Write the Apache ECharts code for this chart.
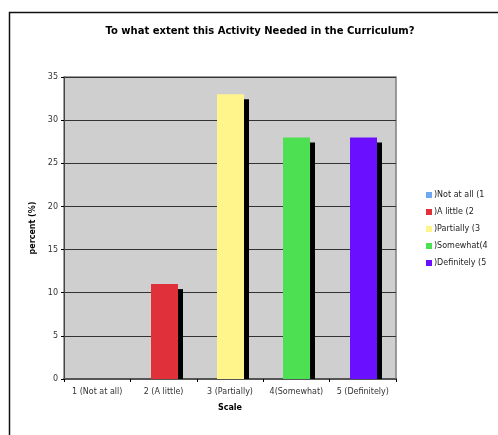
<!DOCTYPE html>
<html>
<head>
<meta charset="utf-8">
<script src="https://cdn.jsdelivr.net/npm/echarts@6/dist/echarts.min.js"></script>
<style>
  html, body { margin: 0; padding: 0; background: #fff; }
  #chart { width: 498px; height: 435px; }
</style>
</head>
<body>
<div id="chart"></div>
<script>
// Survey answers on the 1–5 scale
const categories = ['1 (Not at all)', '2 (A little)', '3 (Partially)', '4(Somewhat)', '5 (Definitely)'];
const legendNames = [')Not at all (1', ')A little (2', ')Partially (3', ')Somewhat(4', ')Definitely (5'];
const percents = [0, 11, 33, 28, 28];
const colors = ['#6FA8F0', '#E0303A', '#FFF58A', '#4DE052', '#6A0FFF'];
const yTicks = [0, 5, 10, 15, 20, 25, 30, 35];

const FONT = 'DejaVu Sans, Verdana, sans-serif';

// Each answer is its own series so it gets a legend entry; bars are drawn
// with a black drop shadow to the right, like a shallow 3D column.
function renderBar(params, api) {
  const idx = api.value(0);
  const val = api.value(1);
  const top = api.coord([idx, val]);
  const base = api.coord([idx, 0]);
  const cx = Math.round(top[0]);
  const frontW = 27, depth = 5, drop = 5;
  const h = base[1] - top[1];
  if (h <= 0) return null;
  return {
    type: 'group',
    children: [
      {
        type: 'rect',
        shape: { x: cx + 14, y: top[1] + drop, width: depth, height: h - drop },
        style: { fill: '#000', stroke: null }
      },
      {
        type: 'rect',
        shape: { x: cx - 13, y: top[1], width: frontW, height: h },
        style: { fill: api.visual('color'), stroke: null }
      }
    ]
  };
}

const series = categories.map((c, i) => ({
  name: legendNames[i],
  type: 'custom',
  renderItem: renderBar,
  itemStyle: { color: colors[i] },
  encode: { x: 0, y: 1 },
  data: [[i, percents[i]]]
}));

const chart = echarts.init(document.getElementById('chart'), null, { renderer: 'canvas' });
chart.setOption({
  animation: false,
  backgroundColor: '#fff',
  textStyle: { fontFamily: FONT },
  title: {
    text: 'To what extent this Activity Needed in the Curriculum?',
    left: 255, top: 21, textAlign: 'center',
    textStyle: { fontFamily: FONT, fontSize: 10, fontWeight: 'bold', color: '#000' }
  },
  graphic: [{
    type: 'rect', left: 7, top: 10, z: -1,
    shape: { width: 520, height: 460 },
    style: { fill: 'none', stroke: '#111', lineWidth: 1.5 }
  }],
  legend: {
    orient: 'vertical',
    left: 421, top: 186,
    itemWidth: 6, itemHeight: 6, itemGap: 9,
    icon: 'rect',
    data: legendNames,
    textStyle: { fontFamily: FONT, fontSize: 8, color: '#222', padding: [0, 0, 0, -3] }
  },
  grid: {
    left: 64, right: 102, top: 77, bottom: 56,
    show: true, backgroundColor: '#CFCFCF', borderColor: '#808080', borderWidth: 1.5
  },
  xAxis: {
    type: 'category',
    data: categories,
    name: 'Scale', nameLocation: 'middle', nameGap: 25,
    nameTextStyle: { fontFamily: FONT, fontSize: 8, fontWeight: 'bold', color: '#000' },
    axisLine: { lineStyle: { color: '#555', width: 2 } },
    axisTick: { show: true, length: 3, lineStyle: { color: '#000' } },
    axisLabel: { fontFamily: FONT, fontSize: 8, color: '#333', margin: 9, interval: 0 }
  },
  yAxis: {
    type: 'value',
    min: 0, max: 35, interval: 5,
    name: 'percent (%)', nameLocation: 'middle', nameGap: 26,
    nameTextStyle: { fontFamily: FONT, fontSize: 8, fontWeight: 'bold', color: '#000' },
    axisLine: { show: true, lineStyle: { color: '#444', width: 1 } },
    axisTick: { show: true, length: 3, lineStyle: { color: '#000' } },
    axisLabel: {
      fontFamily: FONT, fontSize: 8, color: '#333', margin: 6,
      formatter: v => (yTicks.includes(v) ? String(v) : '')
    },
    splitLine: { show: true, lineStyle: { color: '#333', width: 1 } }
  },
  series: series
});
</script>
</body>
</html>
